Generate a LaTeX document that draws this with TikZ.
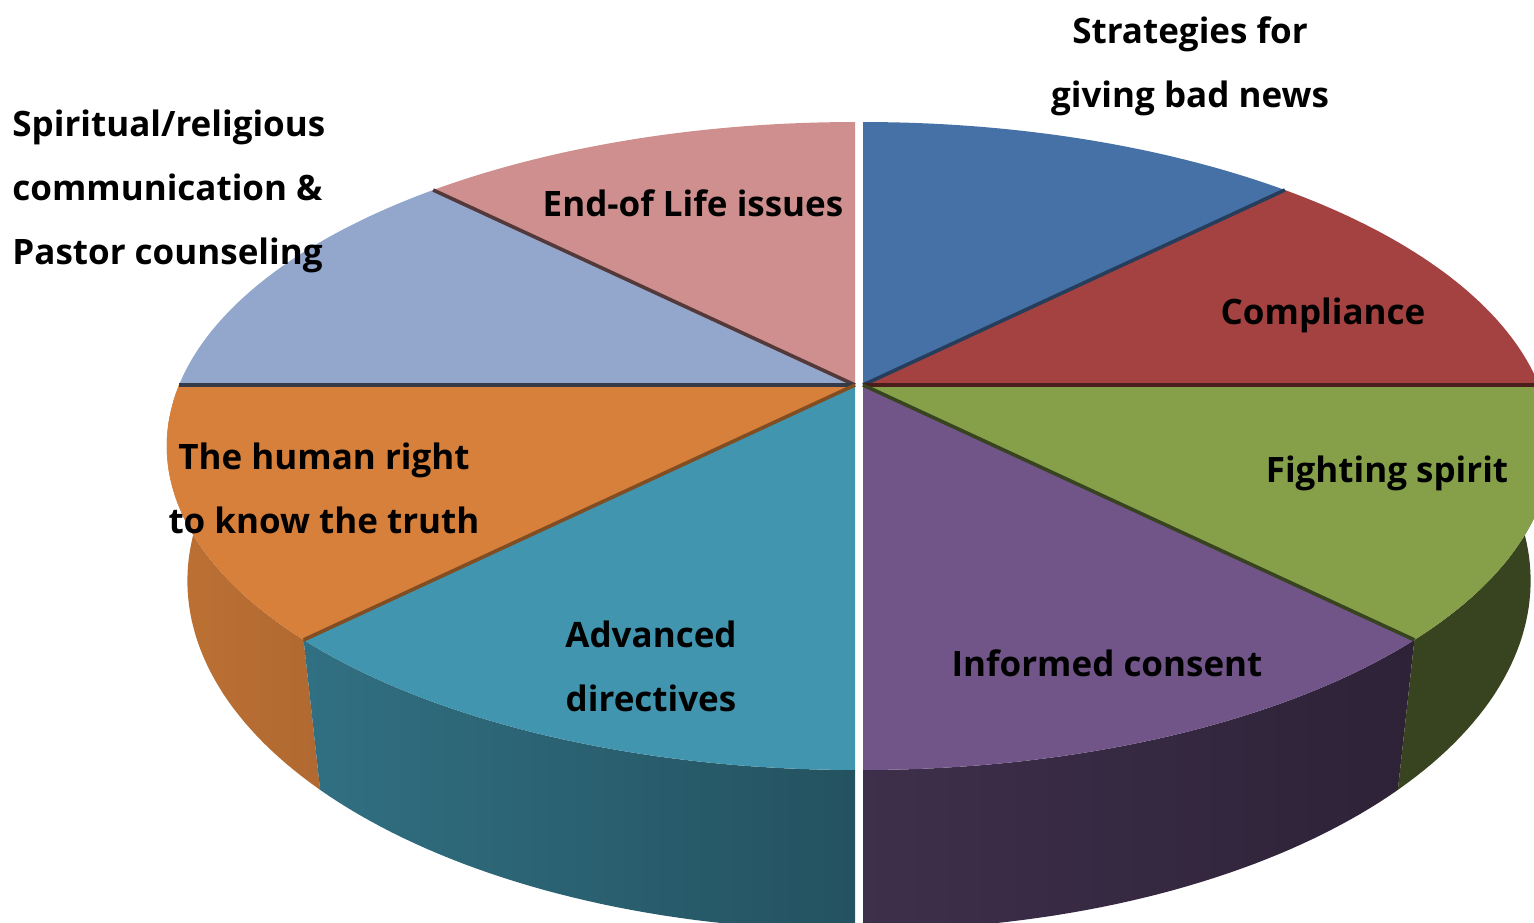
\documentclass[tikz,border=0pt]{standalone}
\usepackage{fontspec}
\setmainfont{Open Sans}
\usetikzlibrary{positioning}

\definecolor{stratcol}{HTML}{4571A6}
\definecolor{complcol}{HTML}{A34241}
\definecolor{fightcol}{HTML}{86A04A}
\definecolor{informcol}{HTML}{715589}
\definecolor{advcol}{HTML}{4195AE}
\definecolor{humancol}{HTML}{D7803B}
\definecolor{spiritcol}{HTML}{93A6CC}
\definecolor{endcol}{HTML}{CF8F8F}

\tikzset{
  % perspective rim of the pie (angle in degrees)
  declare function={
    piex(\t)=676*cos(\t)/(1+0.1883*sin(\t));
    piey(\t)=-312.5*sin(\t)/(1+0.1883*sin(\t));
    pied(\t)=130/(1+0.1883*sin(\t));
  },
  % the labels:
  slicelabel/.style={
    font=\fontsize{17.5}{32}\selectfont\bfseries,
    align=center,
    inner sep=0pt,
  },
  % the cuts between slices:
  cutline/.style={line width=1.8pt},
}

% top face of one slice: start angle, end angle, colour
\newcommand\pietop[3]{%
  \fill[#3] (0,0) -- plot[domain=#1:#2,samples=40,variable=\t] ({piex(\t)},{piey(\t)}) -- cycle;}
% outer wall of one slice: start angle, end angle, left and right colour
\newcommand\pieside[4]{%
  \shade[left color=#3,right color=#4]
    plot[domain=#1:#2,samples=40,variable=\t] ({piex(\t)},{piey(\t)})
    -- plot[domain=#2:#1,samples=40,variable=\t] ({0.97*piex(\t)},{piey(\t)+pied(\t)}) -- cycle;}

\begin{document}
\begin{tikzpicture}[x=0.5pt,y=-0.5pt]
  \useasboundingbox (0,0) rectangle (1534,922);
  \begin{scope}
    \clip (0,0) rectangle (1534,922);

    % right half of the pie
    \begin{scope}[shift={(863,385)}]
      \pieside{-90}{-45}{informcol!55!black}{informcol!40!black}
      \pieside{-45}{0}{fightcol!42!black}{fightcol!42!black}
      \pietop{45}{90}{stratcol}
      \pietop{0}{45}{complcol}
      \pietop{-45}{0}{fightcol}
      \pietop{-90}{-45}{informcol}
      \draw[cutline,stratcol!55!black] (0,0) -- ({piex(45)},{piey(45)});
      \draw[cutline,complcol!45!black] (0,0) -- ({piex(0)},{piey(0)});
      \draw[cutline,fightcol!42!black] (0,0) -- ({piex(-45)},{piey(-45)});
    \end{scope}

    % left half of the pie
    \begin{scope}[shift={(855,385)}]
      \pieside{-180}{-135}{humancol!88!black}{humancol!82!black}
      \pieside{-135}{-90}{advcol!75!black}{advcol!55!black}
      \pietop{90}{135}{endcol}
      \pietop{135}{180}{spiritcol}
      \pietop{180}{225}{humancol}
      \pietop{225}{270}{advcol}
      \draw[cutline,endcol!40!black] (0,0) -- ({piex(135)},{piey(135)});
      \draw[cutline,spiritcol!35!black] (0,0) -- ({piex(180)},{piey(180)});
      \draw[cutline,humancol!60!black] (0,0) -- ({piex(225)},{piey(225)});
    \end{scope}
  \end{scope}

  % labels
  \node[slicelabel] (strat) at (1190,66) {Strategies for\\giving bad news};
  \node[slicelabel] (compl) at (1323,315) {Compliance};
  \node[slicelabel] (fight) at (1387,473) {Fighting spirit};
  \node[slicelabel] (inform) at (1107,663) {Informed consent};
  \node[slicelabel] (adv) at (651,666) {Advanced\\directives};
  \node[slicelabel] (human) at (324,488) {The human right\\to know the truth};
  \node[slicelabel,align=left,anchor=west] (spirit) at (12,191) {Spiritual/religious\\communication \&\\Pastor counseling};
  \node[slicelabel] (endlife) at (693,203) {End-of Life issues};
\end{tikzpicture}
\end{document}
